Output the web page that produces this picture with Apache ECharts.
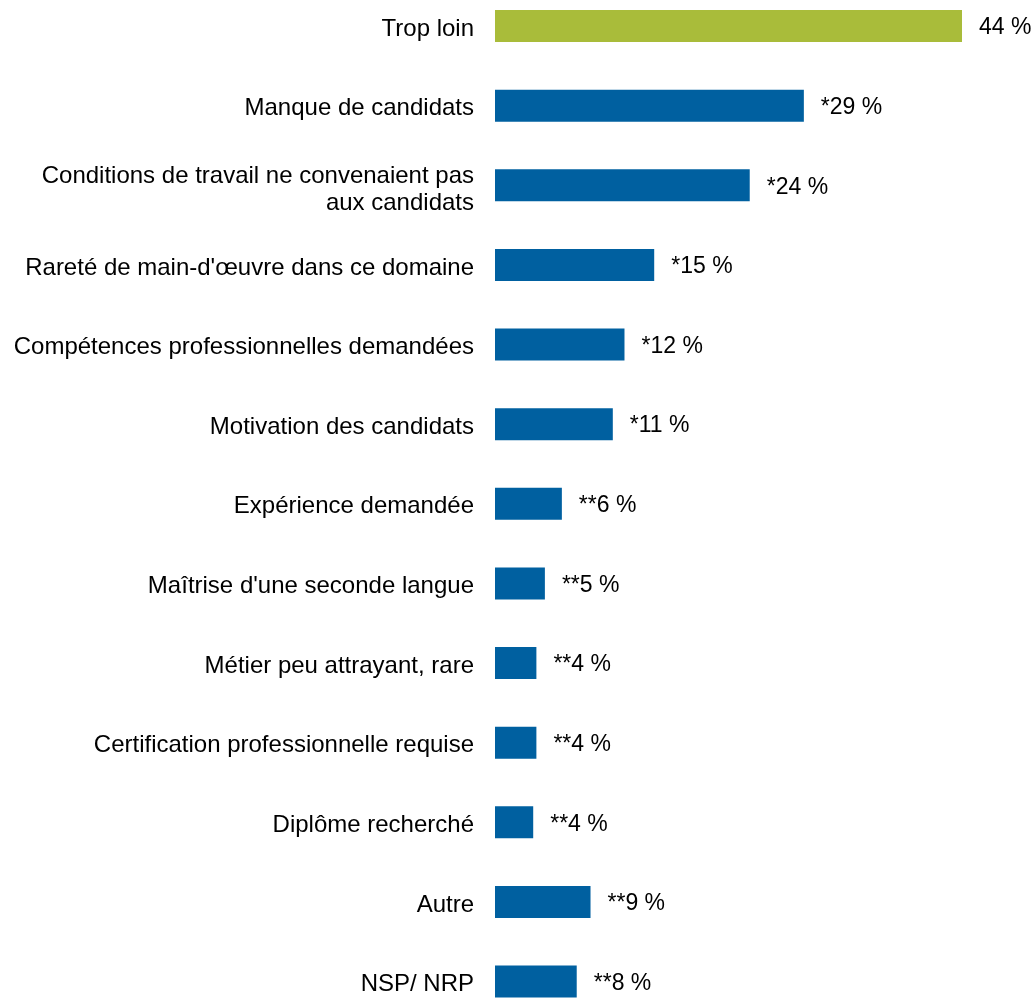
<!DOCTYPE html>
<html>
<head>
<meta charset="utf-8">
<script src="https://cdn.jsdelivr.net/npm/echarts@6/dist/echarts.min.js"></script>
<style>
html,body{margin:0;padding:0;background:#fff;}
#chart{width:1036px;height:998px;}
</style>
</head>
<body>
<div id="chart"></div>
<script>
const categories = [
  "Trop loin",
  "Manque de candidats",
  "Conditions de travail ne convenaient pas\naux candidats",
  "Rareté de main-d'œuvre dans ce domaine",
  "Compétences professionnelles demandées",
  "Motivation des candidats",
  "Expérience demandée",
  "Maîtrise d'une seconde langue",
  "Métier peu attrayant, rare",
  "Certification professionnelle requise",
  "Diplôme recherché",
  "Autre",
  "NSP/ NRP"
];
const values = [44, 29.1, 24.0, 15.0, 12.2, 11.1, 6.3, 4.7, 3.9, 3.9, 3.6, 9.0, 7.7];
const valueLabels = ["44 %", "*29 %", "*24 %", "*15 %", "*12 %", "*11 %", "**6 %", "**5 %", "**4 %", "**4 %", "**4 %", "**9 %", "**8 %"];
const barColors = ["#A9BC3A", "#0060A0", "#0060A0", "#0060A0", "#0060A0", "#0060A0", "#0060A0", "#0060A0", "#0060A0", "#0060A0", "#0060A0", "#0060A0", "#0060A0"];

const chart = echarts.init(document.getElementById('chart'));
chart.setOption({
  animation: false,
  grid: {left: 495, right: 74, top: 26, bottom: 12, containLabel: false},
  xAxis: {
    type: 'value', min: 0, max: 44, show: false,
    splitLine: {show: false}
  },
  yAxis: {
    type: 'category', inverse: true, boundaryGap: false,
    data: categories,
    axisLine: {show: false}, axisTick: {show: false}, splitLine: {show: false},
    axisLabel: {
      margin: 21, color: '#000', fontSize: 24, lineHeight: 27,
      fontFamily: 'Liberation Sans, Arial, sans-serif', align: 'right',
      formatter: v => (v.indexOf('\n') >= 0 ? '{s2| }\n' : '{s1| }\n') + v,
      rich: {
        s1: {fontSize: 1, lineHeight: 6},
        s2: {fontSize: 1, lineHeight: 10}
      }
    }
  },
  series: [{
    type: 'bar',
    barWidth: 32,
    clip: false,
    data: values.map((v, i) => ({value: v, itemStyle: {color: barColors[i]}})),
    label: {
      show: true, position: 'right', distance: 17, offset: [0, 2],
      color: '#000', fontSize: 23,
      fontFamily: 'Liberation Sans, Arial, sans-serif',
      formatter: p => valueLabels[p.dataIndex]
    }
  }]
});
</script>
</body>
</html>
